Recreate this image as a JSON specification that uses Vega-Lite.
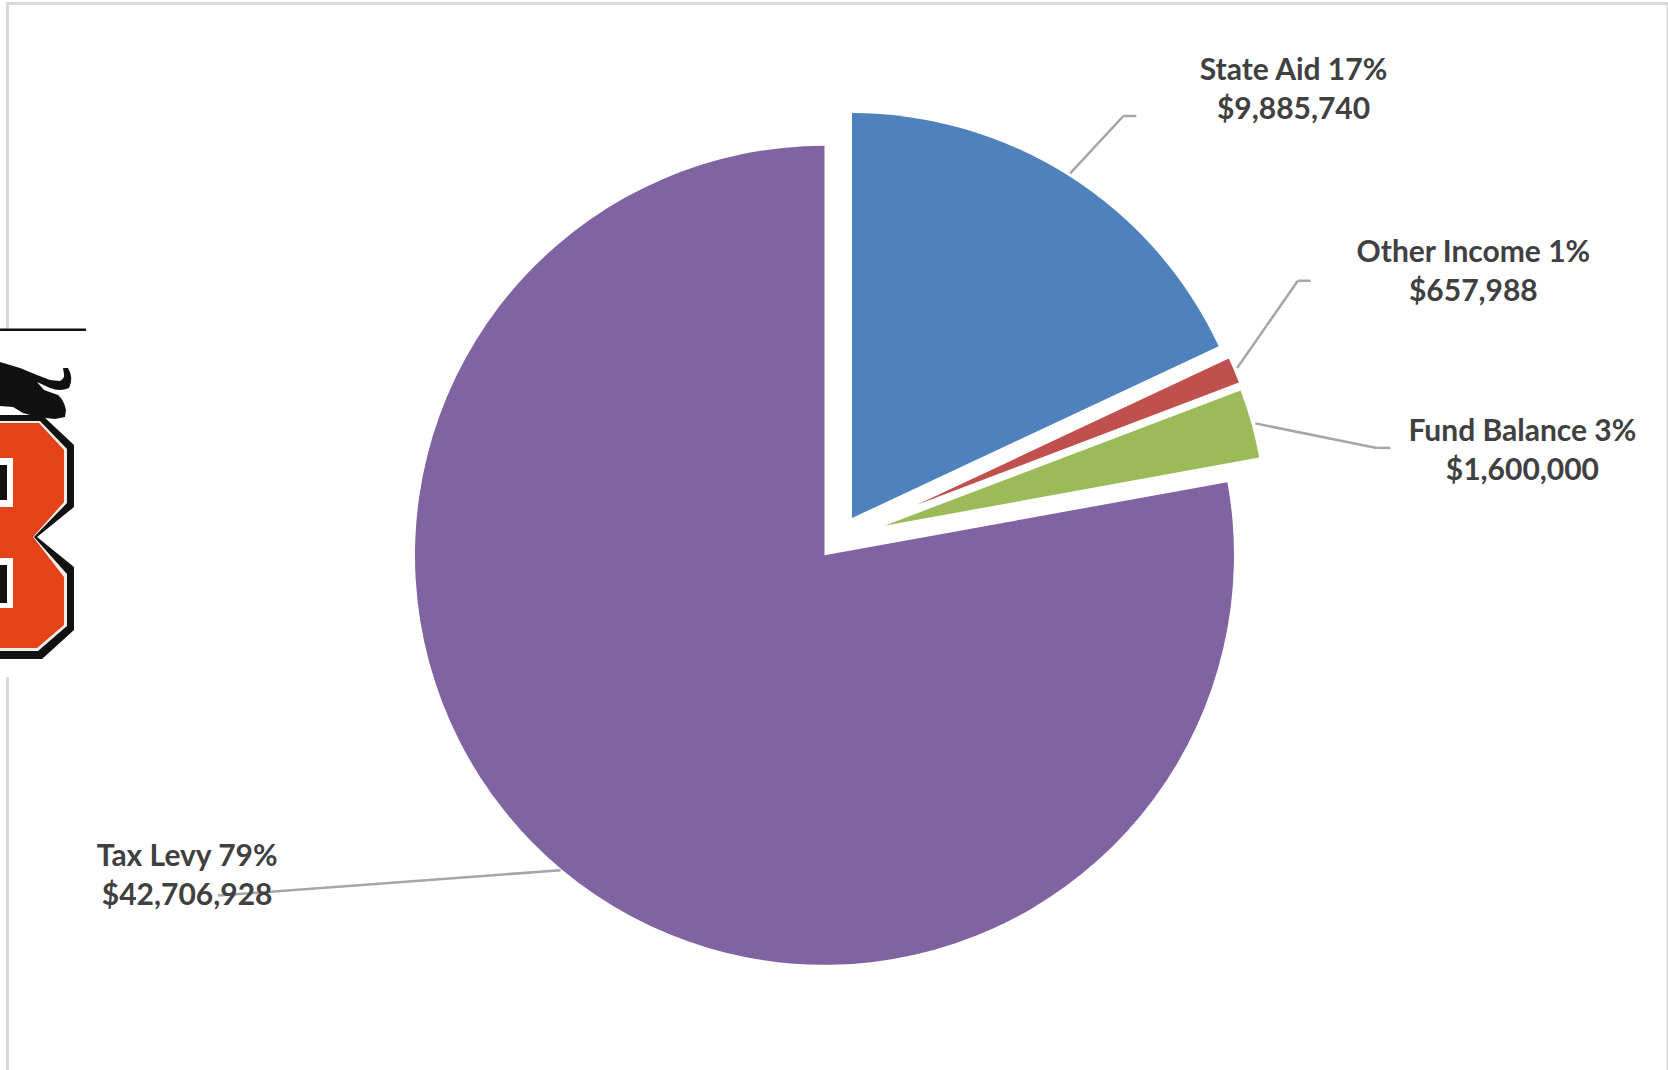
{
  "$schema": "https://vega.github.io/schema/vega-lite/v6.json",
  "width": 1668,
  "height": 1070,
  "padding": 0,
  "autosize": {"type": "fit", "contains": "padding"},
  "background": "white",
  "view": {"stroke": null},
  "config": {"axis": {"disable": true}, "legend": {"disable": true}},
  "data": {"values": [
    {"order": 1, "source": "State Aid", "amount": 9885740, "pct": 17},
    {"order": 2, "source": "Other Income", "amount": 657988, "pct": 1},
    {"order": 3, "source": "Fund Balance", "amount": 1600000, "pct": 3},
    {"order": 4, "source": "Tax Levy", "amount": 42706928, "pct": 79}
  ]},
  "transform": [
    {"stack": "amount", "groupby": [], "sort": [{"field": "order", "order": "ascending"}], "as": ["start", "end"]},
    {"calculate": "datum.source + ' ' + datum.pct + '%\\n$' + format(datum.amount, ',')", "as": "label"}
  ],
  "layer": [
    {
      "data": {"values": [{"part": "frame"}]},
      "mark": {"type": "rect", "fill": null, "stroke": "#d9d9d9", "strokeWidth": 3},
      "encoding": {
        "x": {"datum": 0.45, "type": "quantitative", "scale": {"domain": [0, 100], "range": [0, 1668]}},
        "x2": {"datum": 100},
        "y": {"datum": 0.33, "type": "quantitative", "scale": {"domain": [0, 100], "range": [0, 1070]}},
        "y2": {"datum": 100.5}
      }
    },
    {
      "transform": [{"filter": "datum.source === 'Tax Levy'"}],
      "mark": {"type": "arc", "outerRadius": 409.5},
      "encoding": {
        "x": {"datum": 49.43, "type": "quantitative"},
        "y": {"datum": 51.9, "type": "quantitative"},
        "theta": {"field": "start", "type": "quantitative", "stack": null, "scale": {"domain": [0, 54850656], "range": [0, 6.283185]}},
        "theta2": {"field": "end"},
        "color": {"field": "source", "type": "nominal", "scale": {
          "domain": ["State Aid", "Other Income", "Fund Balance", "Tax Levy"],
          "range": ["#4f81bd", "#c0504d", "#9bbb59", "#8064a2"]
        }}
      }
    },
    {
      "transform": [{"filter": "datum.source === 'State Aid'"}],
      "mark": {"type": "arc", "outerRadius": 405},
      "encoding": {
        "x": {"datum": 51.08, "type": "quantitative"},
        "y": {"datum": 48.42, "type": "quantitative"},
        "theta": {"field": "start", "type": "quantitative", "stack": null},
        "theta2": {"field": "end"},
        "color": {"field": "source", "type": "nominal"}
      }
    },
    {
      "transform": [{"filter": "datum.source === 'Other Income'"}],
      "mark": {"type": "arc", "outerRadius": 345},
      "encoding": {
        "x": {"datum": 54.94, "type": "quantitative"},
        "y": {"datum": 47.2, "type": "quantitative"},
        "theta": {"field": "start", "type": "quantitative", "stack": null},
        "theta2": {"field": "end"},
        "color": {"field": "source", "type": "nominal"}
      }
    },
    {
      "transform": [{"filter": "datum.source === 'Fund Balance'"}],
      "mark": {"type": "arc", "outerRadius": 381},
      "encoding": {
        "x": {"datum": 53.02, "type": "quantitative"},
        "y": {"datum": 49.13, "type": "quantitative"},
        "theta": {"field": "start", "type": "quantitative", "stack": null},
        "theta2": {"field": "end"},
        "color": {"field": "source", "type": "nominal"}
      }
    },
    {
      "transform": [{"filter": "datum.source === 'State Aid'"}],
      "layer": [
        {"mark": {"type": "rule", "color": "#a6a6a6", "strokeWidth": 2.5},
         "encoding": {"x": {"datum": 64.16, "type": "quantitative"}, "y": {"datum": 16.21, "type": "quantitative"}, "x2": {"datum": 67.35}, "y2": {"datum": 10.84}}},
        {"mark": {"type": "rule", "color": "#a6a6a6", "strokeWidth": 2.5},
         "encoding": {"x": {"datum": 67.35, "type": "quantitative"}, "y": {"datum": 10.84, "type": "quantitative"}, "x2": {"datum": 68.12}, "y2": {"datum": 10.84}}},
        {"mark": {"type": "text", "font": "Lato", "fontWeight": "bold", "fontSize": 30, "color": "#404040", "lineBreak": "\n", "lineHeight": 39, "align": "center", "baseline": "middle"},
         "encoding": {"x": {"datum": 77.55, "type": "quantitative"}, "y": {"datum": 6.6, "type": "quantitative"}, "text": {"field": "label"}}}
      ]
    },
    {
      "transform": [{"filter": "datum.source === 'Other Income'"}],
      "layer": [
        {"mark": {"type": "rule", "color": "#a6a6a6", "strokeWidth": 2.5},
         "encoding": {"x": {"datum": 74.17, "type": "quantitative"}, "y": {"datum": 34.39, "type": "quantitative"}, "x2": {"datum": 77.81}, "y2": {"datum": 26.24}}},
        {"mark": {"type": "rule", "color": "#a6a6a6", "strokeWidth": 2.5},
         "encoding": {"x": {"datum": 77.81, "type": "quantitative"}, "y": {"datum": 26.24, "type": "quantitative"}, "x2": {"datum": 78.57}, "y2": {"datum": 26.24}}},
        {"mark": {"type": "text", "font": "Lato", "fontWeight": "bold", "fontSize": 30, "color": "#404040", "lineBreak": "\n", "lineHeight": 39, "align": "center", "baseline": "middle"},
         "encoding": {"x": {"datum": 88.33, "type": "quantitative"}, "y": {"datum": 23.68, "type": "quantitative"}, "text": {"field": "label"}}}
      ]
    },
    {
      "transform": [{"filter": "datum.source === 'Fund Balance'"}],
      "layer": [
        {"mark": {"type": "rule", "color": "#a6a6a6", "strokeWidth": 2.5},
         "encoding": {"x": {"datum": 75.26, "type": "quantitative"}, "y": {"datum": 39.57, "type": "quantitative"}, "x2": {"datum": 82.53}, "y2": {"datum": 41.86}}},
        {"mark": {"type": "rule", "color": "#a6a6a6", "strokeWidth": 2.5},
         "encoding": {"x": {"datum": 82.53, "type": "quantitative"}, "y": {"datum": 41.86, "type": "quantitative"}, "x2": {"datum": 83.36}, "y2": {"datum": 41.86}}},
        {"mark": {"type": "text", "font": "Lato", "fontWeight": "bold", "fontSize": 30, "color": "#404040", "lineBreak": "\n", "lineHeight": 39, "align": "center", "baseline": "middle"},
         "encoding": {"x": {"datum": 91.27, "type": "quantitative"}, "y": {"datum": 40.41, "type": "quantitative"}, "text": {"field": "label"}}}
      ]
    },
    {
      "transform": [{"filter": "datum.source === 'Tax Levy'"}],
      "layer": [
        {"mark": {"type": "rule", "color": "#a6a6a6", "strokeWidth": 2.5},
         "encoding": {"x": {"datum": 33.61, "type": "quantitative"}, "y": {"datum": 81.33, "type": "quantitative"}, "x2": {"datum": 13.07}, "y2": {"datum": 83.7}}},
        {"mark": {"type": "text", "font": "Lato", "fontWeight": "bold", "fontSize": 30, "color": "#404040", "lineBreak": "\n", "lineHeight": 39, "align": "center", "baseline": "middle"},
         "encoding": {"x": {"datum": 11.22, "type": "quantitative"}, "y": {"datum": 80.05, "type": "quantitative"}, "text": {"field": "label"}}}
      ]
    },
    {
      "data": {"values": [{"part": "school logo"}]},
      "encoding": {
        "x": {"datum": 0, "type": "quantitative"},
        "y": {"datum": 0, "type": "quantitative"}
      },
      "layer": [
        {"mark": {"type": "point", "filled": true, "opacity": 1, "size": 4, "strokeWidth": 0, "color": "white", "shape": "M0 329H86V677H0Z"}},
        {"mark": {"type": "point", "filled": true, "opacity": 1, "size": 4, "strokeWidth": 0, "color": "#111111", "shape": "M0 328.5H86V331H0Z"}},
        {"mark": {"type": "point", "filled": true, "opacity": 1, "size": 4, "strokeWidth": 0, "color": "#111111", "shape": "M0 362L20 368L37 375L50 380L60 381Q65 378 64 374L63 368L68 368Q74 378 69 388Q60 392 50 388L37 382L44 390L58 395Q64 400 66 410L65 417L55 419L37 417L23 413L13 407L0 406Z"}},
        {"mark": {"type": "point", "filled": true, "opacity": 1, "size": 4, "strokeWidth": 0, "color": "#111111", "shape": "M0 415L42 415L74 445L74 507L37 537L74 567L74 630L42 659L0 659Z"}},
        {"mark": {"type": "point", "filled": true, "opacity": 1, "size": 4, "strokeWidth": 0, "color": "#f4ece6", "shape": "M0 421L40 421L67 449L67 503L34 537L67 574L67 626L38 651L0 651Z"}},
        {"mark": {"type": "point", "filled": true, "opacity": 1, "size": 4, "strokeWidth": 0, "color": "#e5421a", "shape": "M0 423L39 423L64 450L64 502L33 537L64 577L64 625L37 648L0 648Z"}},
        {"mark": {"type": "point", "filled": true, "opacity": 1, "size": 4, "strokeWidth": 0, "color": "white", "shape": "M0 458H13V507H0ZM0 558H13V608H0Z"}},
        {"mark": {"type": "point", "filled": true, "opacity": 1, "size": 4, "strokeWidth": 0, "color": "#111111", "shape": "M0 465H7V500H0ZM0 565H7V603H0Z"}}
      ]
    }
  ]
}
